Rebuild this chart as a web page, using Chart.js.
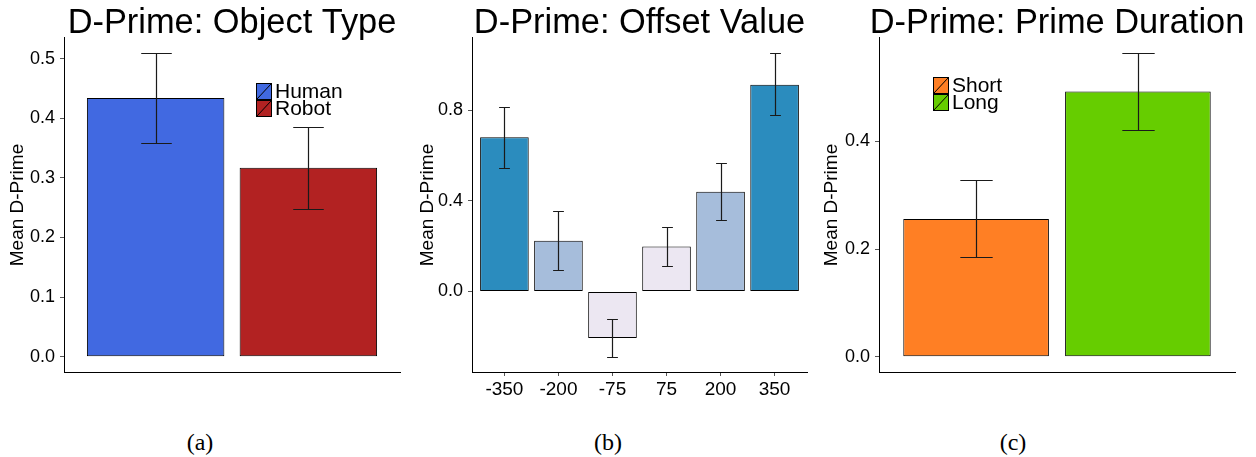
<!DOCTYPE html>
<html><head><meta charset="utf-8">
<script src="https://cdn.jsdelivr.net/npm/chart.js@4.4.1/dist/chart.umd.min.js"></script>
<style>
html,body{margin:0;padding:0;background:#fff;overflow:hidden;width:1256px;height:457px;position:relative;}
canvas{position:absolute;top:0;}
.cap{position:absolute;font-family:"Liberation Serif","Times New Roman",serif;font-size:24px;line-height:24px;color:#000;transform:translateX(-50%);top:430px;}
</style></head><body>
<canvas id="c1" width="464" height="400" style="left:0px;width:464px;height:400px"></canvas>
<canvas id="c2" width="459" height="400" style="left:410px;width:459px;height:400px"></canvas>
<canvas id="c3" width="486" height="400" style="left:814px;width:486px;height:400px"></canvas>
<div class="cap" style="left:200px">(a)</div>
<div class="cap" style="left:608px">(b)</div>
<div class="cap" style="left:1013px">(c)</div>
<script>
// ---- Data ----
const objectCategories = ['Human', 'Robot'];
const objectMeans = [0.434, 0.317];
const objectErrLow = [0.359, 0.248];
const objectErrHigh = [0.509, 0.386];
const objectColors = ['#4169E1', '#B22222'];
const objectTicks = [0.0, 0.1, 0.2, 0.3, 0.4, 0.5];

const offsetCategories = ['-350', '-200', '-75', '75', '200', '350'];
const offsetMeans = [0.680, 0.224, -0.205, 0.198, 0.440, 0.912];
const offsetErrLow = [0.544, 0.094, -0.288, 0.113, 0.315, 0.777];
const offsetErrHigh = [0.813, 0.353, -0.123, 0.284, 0.566, 1.051];
const offsetColors = ['#2B8CBE', '#A6BDDB', '#ECE7F2', '#ECE7F2', '#A6BDDB', '#2B8CBE'];
const offsetTicks = [0.0, 0.4, 0.8];

const durationCategories = ['Short', 'Long'];
const durationMeans = [0.256, 0.493];
const durationErrLow = [0.185, 0.422];
const durationErrHigh = [0.328, 0.564];
const durationColors = ['#FF7F24', '#66CD00'];
const durationTicks = [0.0, 0.2, 0.4];

Chart.defaults.font.family = '"Liberation Sans", Arial, Helvetica, sans-serif';
Chart.defaults.color = '#000';

function makeChart(id, o) {
  const n = o.categories.length;
  const lo = Math.min(0, ...o.low), hi = Math.max(...o.high);
  const pad = (hi - lo) * 0.05;

  const errorBars = {
    id: 'errorBars',
    afterDatasetsDraw(chart) {
      const {ctx, scales: {x, y}} = chart;
      ctx.save();
      ctx.strokeStyle = '#1a1a1a';
      ctx.lineWidth = 1.2;
      o.low.forEach((l, i) => {
        const h = o.high[i];
        const cx = Math.round(x.getPixelForValue(i + 1)) + 0.5;
        const half = (x.getPixelForValue(i + 1.1) - x.getPixelForValue(i + 0.9)) / 2;
        const yl = Math.round(y.getPixelForValue(l)) + 0.5;
        const yh = Math.round(y.getPixelForValue(h)) + 0.5;
        ctx.beginPath();
        ctx.moveTo(cx, yl); ctx.lineTo(cx, yh);
        ctx.moveTo(cx - half, yh); ctx.lineTo(cx + half, yh);
        ctx.moveTo(cx - half, yl); ctx.lineTo(cx + half, yl);
        ctx.stroke();
      });
      ctx.restore();
    }
  };

  const plugins = [errorBars];
  if (o.legend) {
    plugins.push({
      id: 'boxLegend',
      afterDraw(chart) {
        const {ctx, chartArea} = chart;
        const bw = 16, bh = 17;
        const x0 = Math.round(chartArea.left + o.legend.dx);
        const y0 = Math.round(chartArea.top + o.legend.dy);
        ctx.save();
        o.categories.forEach((lab, i) => {
          const yy = y0 + i * bh;
          ctx.fillStyle = o.colors[i];
          ctx.fillRect(x0, yy, bw, bh);
          ctx.strokeStyle = '#000';
          ctx.lineWidth = 1;
          ctx.strokeRect(x0 + 0.5, yy + 0.5, bw - 1, bh - 1);
          ctx.beginPath();
          ctx.moveTo(x0 + 1, yy + bh - 1);
          ctx.lineTo(x0 + bw - 1, yy + 1);
          ctx.stroke();
          ctx.fillStyle = '#000';
          ctx.font = '21px "Liberation Sans", Arial, sans-serif';
          ctx.textBaseline = 'middle';
          ctx.textAlign = 'left';
          ctx.fillText(lab, x0 + bw + 3, yy + bh / 2 + 1);
        });
        ctx.restore();
      }
    });
  }

  return new Chart(document.getElementById(id), {
    type: 'bar',
    data: {
      datasets: [{
        data: o.means.map((v, i) => ({x: i + 1, y: v})),
        backgroundColor: o.colors,
        borderColor: '#000',
        borderWidth: 1,
        borderSkipped: false,
        barPercentage: 0.9,
        categoryPercentage: 1
      }]
    },
    options: {
      responsive: false,
      animation: false,
      events: [],
      layout: {padding: 0},
      plugins: {
        legend: {display: false},
        tooltip: {enabled: false},
        title: {
          display: true,
          text: o.title,
          color: '#000',
          font: {size: 34.4, weight: 'normal', lineHeight: 0.843},
          padding: {top: 9, bottom: 0}
        }
      },
      scales: {
        x: {
          type: 'linear',
          offset: false,
          min: 0.4,
          max: n + 0.6,
          afterBuildTicks: s => { s.ticks = o.categories.map((c, i) => ({value: i + 1})); },
          afterFit: s => { s.height = 28; },
          grid: {display: o.showX, offset: false, drawOnChartArea: false, drawTicks: true, tickLength: 4, color: '#555'},
          border: {display: true, color: '#000', width: 1},
          ticks: {
            display: o.showX,
            padding: 2,
            maxRotation: 0,
            autoSkip: false,
            font: {size: 19},
            color: '#000',
            callback: v => o.categories[Math.round(v) - 1]
          }
        },
        y: {
          type: 'linear',
          position: 'left',
          min: lo - pad,
          max: hi + pad,
          afterBuildTicks: s => { s.ticks = o.ticks.map(v => ({value: v})); },
          afterFit: s => { s.width = o.yWidth; },
          grid: {display: true, drawOnChartArea: false, drawTicks: true, tickLength: 4, color: '#555'},
          border: {display: true, color: '#000', width: 1},
          ticks: {
            padding: 5,
            font: {size: 18},
            color: '#000',
            callback: v => Number(v).toFixed(1)
          },
          title: {
            display: true,
            text: 'Mean D-Prime',
            color: '#000',
            font: {size: 19, lineHeight: 1.2},
            padding: {top: 6, bottom: 0}
          }
        },
        spacer: {
          type: 'linear',
          position: 'right',
          display: true,
          afterFit: s => { s.width = o.yWidth; },
          grid: {display: false},
          border: {display: false},
          ticks: {display: false}
        }
      }
    },
    plugins
  });
}

makeChart('c1', {
  title: 'D-Prime: Object Type',
  categories: objectCategories, means: objectMeans, low: objectErrLow, high: objectErrHigh,
  colors: objectColors, ticks: objectTicks,
  yWidth: 64, showX: false,
  legend: {dx: 192, dy: 45}
});
makeChart('c2', {
  title: 'D-Prime: Offset Value',
  categories: offsetCategories, means: offsetMeans, low: offsetErrLow, high: offsetErrHigh,
  colors: offsetColors, ticks: offsetTicks,
  yWidth: 62, showX: true,
  legend: null
});
makeChart('c3', {
  title: 'D-Prime: Prime Duration',
  categories: durationCategories, means: durationMeans, low: durationErrLow, high: durationErrHigh,
  colors: durationColors, ticks: durationTicks,
  yWidth: 65, showX: false,
  legend: {dx: 54, dy: 39}
});
</script>
</body></html>
